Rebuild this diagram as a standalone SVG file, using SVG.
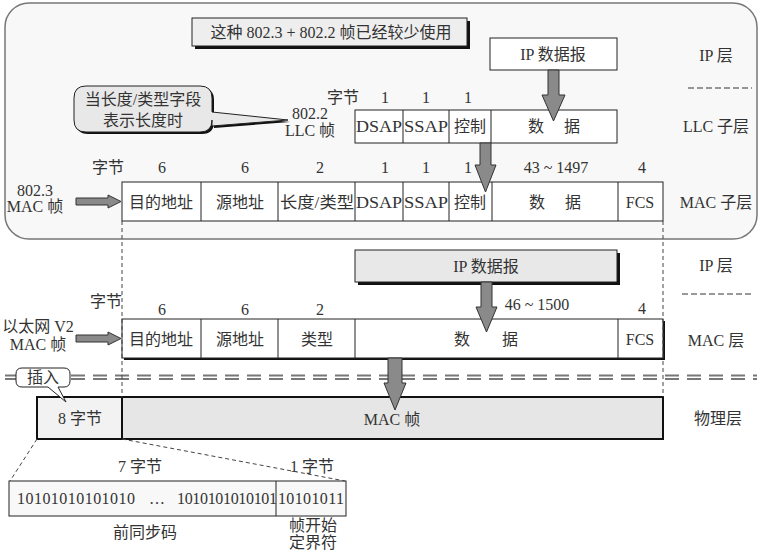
<svg xmlns="http://www.w3.org/2000/svg" width="760" height="560" viewBox="0 0 760 560">
<style>
text{font-family:"Liberation Serif","Noto Sans CJK SC",serif;font-size:16px;fill:#333;text-anchor:middle}
.c{fill:#fff;stroke:#222;stroke-width:1}
.ar{fill:#8a8a8a;stroke:#333;stroke-width:1}
.dv{stroke:#444;stroke-width:1;stroke-dasharray:4 3;fill:none}
.lay{stroke:#333;stroke-width:1;stroke-dasharray:6 3}
.ph{stroke:#777;stroke-width:2;stroke-dasharray:14 8}
</style>
<rect x="5" y="3" width="752" height="236" rx="24" fill="#f8f8f8" stroke="#777" stroke-width="1.5"/>

<g id="title">
<rect x="195" y="21" width="275" height="28" fill="#111"/>
<rect x="192" y="18" width="275" height="28" fill="#eeeeee" stroke="#222"/>
<text x="331" y="38">这种 802.3 + 802.2 帧已经较少使用</text>
</g>

<g id="callout">
<path d="M86,86 H200 Q212,86 212,98 V112 L288,120 L212,126 V120 Q212,132 200,132 H86 Q74,132 74,120 V98 Q74,86 86,86 Z" fill="#111" transform="translate(2,2)"/>
<path d="M86,86 H200 Q212,86 212,98 V112 L288,120 L212,126 V120 Q212,132 200,132 H86 Q74,132 74,120 V98 Q74,86 86,86 Z" fill="#e8e8e8" stroke="#222"/>
<text x="143" y="105">当长度/类型字段</text>
<text x="143" y="126">表示长度时</text>
</g>

<g id="ip1">
<rect x="490" y="38" width="127" height="32" class="c"/>
<text x="553" y="60">IP 数据报</text>
</g>

<g id="labels-right">
<text x="716" y="61">IP 层</text>
<line x1="688" y1="88" x2="752" y2="88" class="lay"/>
<text x="716" y="132">LLC 子层</text>
<text x="716" y="208">MAC 子层</text>
<text x="716" y="271">IP 层</text>
<line x1="682" y1="294" x2="752" y2="294" class="lay"/>
<text x="716" y="346">MAC 层</text>
<text x="718" y="424">物理层</text>
</g>

<g id="llc">
<text x="310" y="119">802.2</text>
<text x="310" y="136">LLC 帧</text>
<text x="343" y="103">字节</text>
<text x="385" y="103">1</text>
<text x="426" y="103">1</text>
<text x="468" y="103">1</text>
<rect x="355" y="110" width="262" height="33" class="c"/>
<line x1="403" y1="110" x2="403" y2="143" stroke="#222"/>
<line x1="449" y1="110" x2="449" y2="143" stroke="#222"/>
<line x1="491" y1="110" x2="491" y2="143" stroke="#222"/>
<text x="379" y="132" textLength="46" lengthAdjust="spacingAndGlyphs">DSAP</text>
<text x="426" y="132" textLength="44" lengthAdjust="spacingAndGlyphs">SSAP</text>
<text x="470" y="132">控制</text>
<text x="554" y="132">数　 据</text>
</g>

<g id="mac8023">
<text x="35" y="196">802.3</text>
<text x="35" y="212">MAC 帧</text>
<text x="108" y="173">字节</text>
<text x="162" y="173">6</text>
<text x="245" y="173">6</text>
<text x="320" y="173">2</text>
<text x="385" y="173">1</text>
<text x="426" y="173">1</text>
<text x="468" y="173">1</text>
<text x="556" y="173">43 ~ 1497</text>
<text x="642" y="173">4</text>
<rect x="122" y="182" width="541" height="39" class="c"/>
<line x1="201" y1="182" x2="201" y2="221" stroke="#222"/>
<line x1="278" y1="182" x2="278" y2="221" stroke="#222"/>
<line x1="355" y1="182" x2="355" y2="221" stroke="#222"/>
<line x1="403" y1="182" x2="403" y2="221" stroke="#222"/>
<line x1="449" y1="182" x2="449" y2="221" stroke="#222"/>
<line x1="492" y1="182" x2="492" y2="221" stroke="#222"/>
<line x1="618" y1="182" x2="618" y2="221" stroke="#222"/>
<text x="161" y="208">目的地址</text>
<text x="240" y="208">源地址</text>
<text x="317" y="208" textLength="74" lengthAdjust="spacingAndGlyphs">长度/类型</text>
<text x="379" y="208" textLength="46" lengthAdjust="spacingAndGlyphs">DSAP</text>
<text x="426" y="208" textLength="44" lengthAdjust="spacingAndGlyphs">SSAP</text>
<text x="470" y="208">控制</text>
<text x="555" y="208">数　 据</text>
<text x="640" y="208">FCS</text>
</g>

<g id="ip2">
<rect x="358" y="253" width="262" height="32" fill="#111"/>
<rect x="355" y="250" width="262" height="32" fill="#e8e8e8" stroke="#222"/>
<text x="486" y="272">IP 数据报</text>
</g>

<g id="ethv2">
<text x="38" y="332">以太网 V2</text>
<text x="38" y="350">MAC 帧</text>
<text x="106" y="307">字节</text>
<text x="162" y="315">6</text>
<text x="245" y="315">6</text>
<text x="320" y="315">2</text>
<text x="537" y="310">46 ~ 1500</text>
<text x="642" y="314">4</text>
<rect x="124" y="321" width="541" height="39" fill="#111"/>
<rect x="122" y="319" width="541" height="39" class="c"/>
<line x1="201" y1="319" x2="201" y2="358" stroke="#222"/>
<line x1="278" y1="319" x2="278" y2="358" stroke="#222"/>
<line x1="355" y1="319" x2="355" y2="358" stroke="#222"/>
<line x1="618" y1="319" x2="618" y2="358" stroke="#222"/>
<text x="161" y="345">目的地址</text>
<text x="240" y="345">源地址</text>
<text x="317" y="345">类型</text>
<text x="486" y="345">数　　据</text>
<text x="640" y="345">FCS</text>
</g>

<line x1="5" y1="375.5" x2="757" y2="375.5" class="ph"/>
<line x1="5" y1="379" x2="757" y2="379" class="ph"/>

<g id="phys">
<rect x="37" y="397" width="85" height="42" fill="#f2f2f2" stroke="#111" stroke-width="2"/>
<rect x="122" y="397" width="541" height="42" fill="#e6e6e6" stroke="#111" stroke-width="2"/>
<text x="80" y="424">8 字节</text>
<text x="392" y="425">MAC 帧</text>
</g>

<g id="insert">
<path d="M22,368 H64 Q70,368 70,374 V381 Q70,387 64,387 H58 L66,402 L48,387 H22 Q16,387 16,381 V374 Q16,368 22,368 Z" fill="#fff" stroke="#222"/>
<text x="43" y="383">插入</text>
</g>

<g id="preamble">
<text x="140" y="472">7 字节</text>
<text x="312" y="472">1 字节</text>
<rect x="9" y="481" width="337" height="35" fill="#f8f8f8" stroke="#222"/>
<line x1="276" y1="481" x2="276" y2="516" stroke="#222"/>
<text x="17" y="504" style="text-anchor:start" textLength="118">10101010101010</text>
<text x="157" y="504">…</text>
<text x="177" y="504" style="text-anchor:start" textLength="100">1010101010101</text>
<text x="311" y="504" textLength="66">10101011</text>
<text x="145" y="538">前同步码</text>
<text x="313" y="531">帧开始</text>
<text x="313" y="548">定界符</text>
</g>

<g id="connectors">
<path class="ar" d="M548,70 H559 V95 H565 L553.5,121 L542,95 H548 Z"/>
<path class="ar" d="M480,143 H491 V165 H496 L485.5,192 L475,165 H480 Z"/>
<path class="ar" d="M481,282 H492 V307 H497 L486.5,332 L476,307 H481 Z"/>
<path class="ar" d="M388,358 H402 V383 H406 L395,410 L384,383 H388 Z"/>
<path class="ar" d="M76,198 H108 V195 L121,201.5 L108,208 V205 H76 Z"/>
<path class="ar" d="M76,335 H108 V332 L121,338.5 L108,345 V342 H76 Z"/>
<line x1="122" y1="221" x2="122" y2="397" class="dv"/>
<line x1="663" y1="221" x2="663" y2="397" class="dv"/>
<line x1="37" y1="439" x2="10" y2="481" class="dv"/>
<line x1="122" y1="439" x2="345" y2="481" class="dv"/>
</g>
</svg>
